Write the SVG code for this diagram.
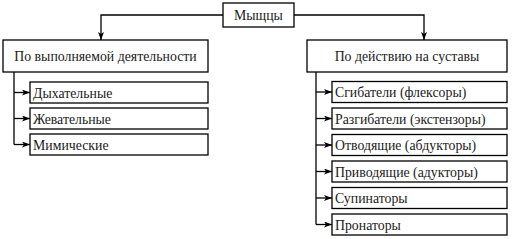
<svg xmlns="http://www.w3.org/2000/svg" width="515" height="239" viewBox="0 0 515 239">
<defs>
<marker id="ah" markerWidth="8" markerHeight="6" refX="8" refY="3" orient="auto" markerUnits="userSpaceOnUse">
<path d="M0,0 L8,3 L0,6 L2,3 Z" fill="#000"/>
</marker>
</defs>
<style>
rect{fill:#fff;stroke:#000;stroke-width:1.3}
text{font-family:'Liberation Serif','Times New Roman',serif;font-size:13.8px;fill:#1a1a1a}
.c{text-anchor:middle}
.ln{fill:none;stroke:#000;stroke-width:1.3}
</style>
<rect width="515" height="239" style="fill:#fff;stroke:none"/>
<g id="connectors">
<path class="ln" d="M223,15 H101 V40" marker-end="url(#ah)"/>
<path class="ln" d="M294,15 H424 V40" marker-end="url(#ah)"/>
<path class="ln" d="M14,72 V144.5"/>
<path class="ln" d="M14,92.5 H30" marker-end="url(#ah)"/>
<path class="ln" d="M14,118.5 H30" marker-end="url(#ah)"/>
<path class="ln" d="M14,144.5 H30" marker-end="url(#ah)"/>
<path class="ln" d="M316,72 V224.5"/>
<path class="ln" d="M316,92 H332" marker-end="url(#ah)"/>
<path class="ln" d="M316,118.5 H332" marker-end="url(#ah)"/>
<path class="ln" d="M316,145 H332" marker-end="url(#ah)"/>
<path class="ln" d="M316,171.5 H332" marker-end="url(#ah)"/>
<path class="ln" d="M316,198 H332" marker-end="url(#ah)"/>
<path class="ln" d="M316,224.5 H332" marker-end="url(#ah)"/>
</g>
<g id="root"><rect x="223" y="3" width="71" height="24"/><text class="c" x="258.5" y="20">Мыщцы</text></g>
<g id="left"><rect x="3" y="40" width="205" height="32"/><text class="c" x="105.5" y="61">По выполняемой деятельности</text></g>
<g id="right"><rect x="307" y="40" width="200" height="32"/><text class="c" x="407" y="61">По действию на суставы</text></g>
<g id="l1"><rect x="30" y="82" width="178" height="21"/><text x="33" y="97.5">Дыхательные</text></g>
<g id="l2"><rect x="30" y="108" width="178" height="21"/><text x="33" y="123.5">Жевательные</text></g>
<g id="l3"><rect x="30" y="134" width="178" height="21"/><text x="33" y="149.5">Мимические</text></g>
<g id="r1"><rect x="332" y="81.5" width="175" height="21"/><text x="335" y="97">Сгибатели (флексоры)</text></g>
<g id="r2"><rect x="332" y="108" width="175" height="21"/><text x="335" y="123.5">Разгибатели (экстензоры)</text></g>
<g id="r3"><rect x="332" y="134.5" width="175" height="21"/><text x="335" y="150">Отводящие (абдукторы)</text></g>
<g id="r4"><rect x="332" y="161" width="175" height="21"/><text x="335" y="176.5">Приводящие (адукторы)</text></g>
<g id="r5"><rect x="332" y="187.5" width="175" height="21"/><text x="335" y="203">Супинаторы</text></g>
<g id="r6"><rect x="332" y="214" width="175" height="21"/><text x="335" y="229.5">Пронаторы</text></g>
</svg>
